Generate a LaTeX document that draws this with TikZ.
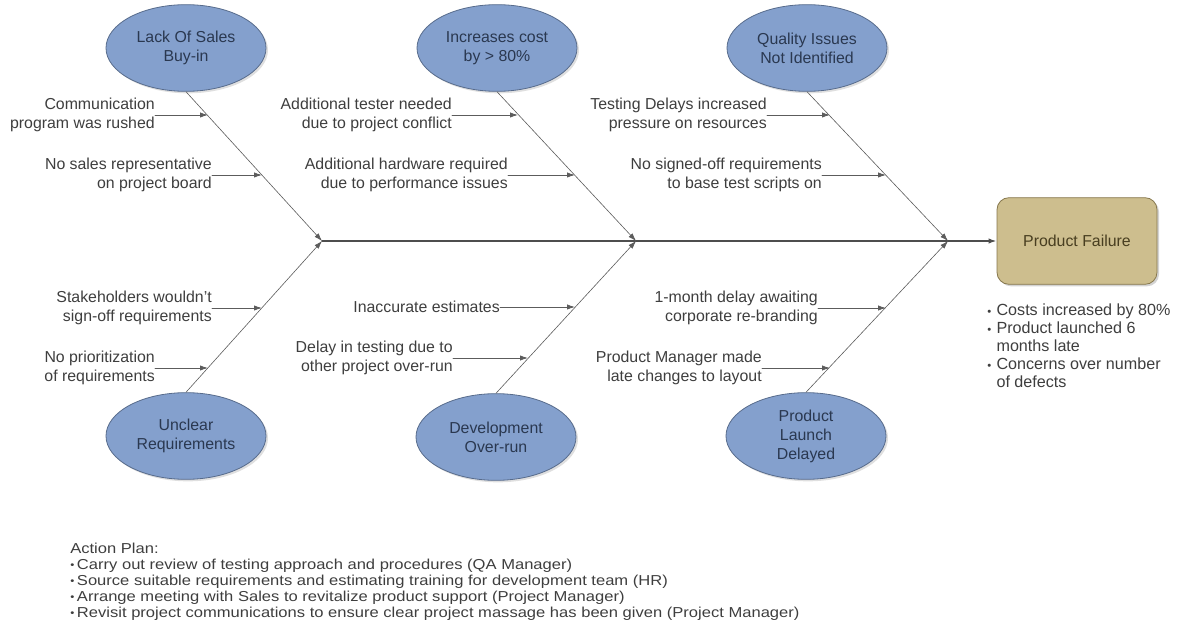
\documentclass[tikz,border=0pt]{standalone}
\usepackage{fontspec}
\setmainfont{Liberation Sans}
\newfontfamily\planfont{Liberation Sans}[FakeStretch=1.15]
\usetikzlibrary{arrows.meta}
\usetikzlibrary{shapes.geometric}
\usetikzlibrary{shadows}

\definecolor{causeblue}{RGB}{132,160,205}
\definecolor{causeedge}{RGB}{88,108,140}
\definecolor{causetext}{RGB}{42,56,80}
\definecolor{effecttan}{RGB}{205,190,142}
\definecolor{effectedge}{RGB}{135,120,78}
\definecolor{effecttext}{RGB}{72,62,32}
\definecolor{linegray}{RGB}{92,92,92}
\definecolor{labelgray}{RGB}{62,62,62}

\newcommand{\smalldot}{\raisebox{0.5pt}{\scalebox{0.7}{\textbullet}}}

\begin{document}
\begin{tikzpicture}[x=0.75pt,y=-0.75pt,line cap=round,line join=round,
  >={Latex[length=6pt,width=4pt]},
  every node/.style={font=\fontsize{11.9}{14.2}\selectfont},
  cause/.style={ellipse,draw=causeedge,fill=causeblue,text=causetext,line width=0.6pt,
    minimum width=120pt,minimum height=65pt,inner sep=0pt,align=center,
    drop shadow={opacity=0.25,shadow xshift=1.5pt,shadow yshift=-1.5pt}},
  effect/.style={rectangle,rounded corners=9pt,draw=effectedge,fill=effecttan,text=effecttext,
    line width=0.6pt,minimum width=120pt,minimum height=65pt,inner sep=0pt,
    drop shadow={opacity=0.35,shadow xshift=1.5pt,shadow yshift=-1.5pt}},
  reason/.style={text=labelgray,align=right,anchor=east,inner sep=0pt},
  bone/.style={draw=linegray,line width=0.45pt,->},
  twig/.style={draw=linegray,line width=0.6pt,->},
  spine/.style={draw=linegray!85!black,line width=1.1pt,->}]
\useasboundingbox (0,0) rectangle (1184,634);

% causes above the spine
\node[cause] (sales) at (186,48) {Lack Of Sales\\Buy-in};
\node[cause] (cost) at (497,48) {Increases cost\\by > 80\%};
\node[cause] (quality) at (807,48) {Quality Issues\\Not Identified};
% causes below the spine
\node[cause] (req) at (186,436) {Unclear\\Requirements};
\node[cause] (dev) at (496,437) {Development\\Over-run};
\node[cause] (launch) at (806,436) {Product\\Launch\\Delayed};
% effect
\node[effect] (fail) at (1077,241) {Product Failure};

% spine and bones
\coordinate (j1) at (322,241);
\coordinate (j2) at (636,241);
\coordinate (j3) at (948,241);
\draw[spine] (j1) -- (fail);
\draw[bone] (sales.south) -- (j1);
\draw[bone] (req.north) -- (j1);
\draw[bone] (cost.south) -- (j2);
\draw[bone] (dev.north) -- (j2);
\draw[bone] (quality.south) -- (j3);
\draw[bone] (launch.north) -- (j3);

% sub-causes
\node[reason] (r1) at (155,115) {Communication\\program was rushed};
\coordinate (b1) at (208,115);
\draw[twig] (r1.east) -- (b1);
\node[reason] (r2) at (212,175) {No sales representative\\on project board};
\coordinate (b2) at (262,175);
\draw[twig] (r2.east) -- (b2);
\node[reason] (r3) at (452,115) {Additional tester needed\\due to project conflict};
\coordinate (b3) at (518,115);
\draw[twig] (r3.east) -- (b3);
\node[reason] (r4) at (508,175) {Additional hardware required\\due to performance issues};
\coordinate (b4) at (575,175);
\draw[twig] (r4.east) -- (b4);
\node[reason] (r5) at (767,115) {Testing Delays increased\\pressure on resources};
\coordinate (b5) at (830,115);
\draw[twig] (r5.east) -- (b5);
\node[reason] (r6) at (822,175) {No signed-off requirements\\to base test scripts on};
\coordinate (b6) at (886,175);
\draw[twig] (r6.east) -- (b6);

\node[reason] (r7) at (212,308) {Stakeholders wouldn't\\sign-off requirements};
\coordinate (b7) at (262,308);
\draw[twig] (r7.east) -- (b7);
\node[reason] (r8) at (155,368) {No prioritization\\of requirements};
\coordinate (b8) at (208,368);
\draw[twig] (r8.east) -- (b8);
\node[reason] (r9) at (500,307) {Inaccurate estimates};
\coordinate (b9) at (575,307);
\draw[twig] (r9.east) -- (b9);
\node[reason] (r10) at (453,358) {Delay in testing due to\\other project over-run};
\coordinate (b10) at (528,358);
\draw[twig] (r10.east) -- (b10);
\node[reason] (r11) at (818,308) {1-month delay awaiting\\corporate re-branding};
\coordinate (b11) at (886,308);
\draw[twig] (r11.east) -- (b11);
\node[reason] (r12) at (762,368) {Product Manager made\\late changes to layout};
\coordinate (b12) at (830,368);
\draw[twig] (r12.east) -- (b12);

% outcome notes
\node[anchor=north west,inner sep=0pt,text=labelgray] (notes) at (987,303) {%
  \fontsize{12.1}{13.5}\selectfont
  \begin{tabular}{@{}l@{\hspace{4pt}}l@{}}
  \smalldot & Costs increased by 80\%\\
  \smalldot & Product launched 6\\
            & months late\\
  \smalldot & Concerns over number\\
            & of defects
  \end{tabular}};

% action plan
\node[anchor=north west,inner sep=0pt,text=labelgray,align=left] (plan) at (70,542) {%
  \planfont\fontsize{10.8}{12}\selectfont
  \begin{tabular}{@{}l@{\hspace{2pt}}l@{}}
  \multicolumn{2}{@{}l@{}}{Action Plan:}\\
  \smalldot & Carry out review of testing approach and procedures (QA Manager)\\
  \smalldot & Source suitable requirements and estimating training for development team (HR)\\
  \smalldot & Arrange meeting with Sales to revitalize product support (Project Manager)\\
  \smalldot & Revisit project communications to ensure clear project massage has been given (Project Manager)
  \end{tabular}};
\end{tikzpicture}
\end{document}
